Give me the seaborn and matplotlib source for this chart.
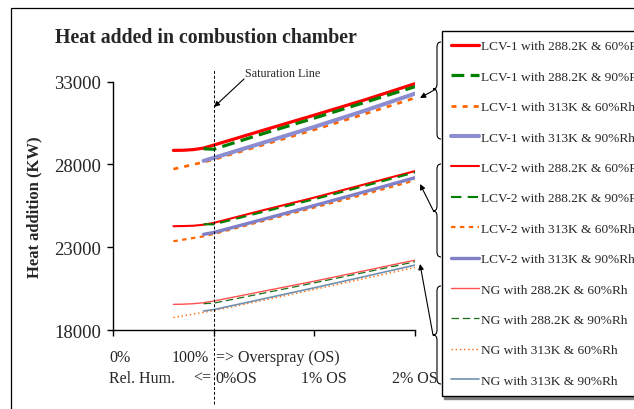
import numpy as np
import matplotlib
matplotlib.use("Agg")
import matplotlib.pyplot as plt
from matplotlib.path import Path
from matplotlib.patches import PathPatch, Rectangle
import seaborn as sns

# x positions: 0 = 0% RH, 1 = 100% RH / 0% OS, 2 = 1% OS, 3 = 2% OS
x_60 = [0.6, 0.7, 0.8, 0.9, 1.0, 1.5, 2.0, 2.5, 3.0]
x_90 = [0.9, 1.0, 1.5, 2.0, 2.5, 3.0]

lcv1_288_60 = [28850, 28860, 28900, 28990, 29170, 30080, 30980, 31900, 32880]
lcv1_288_90 = [28950, 28920, 29880, 30800, 31750, 32700]
lcv1_313_60 = [27720, 27860, 28000, 28140, 28300, 29200, 30100, 31050, 32020]
lcv1_313_90 = [28220, 28400, 29330, 30270, 31250, 32280]

lcv2_288_60 = [24270, 24280, 24300, 24360, 24470, 25250, 26000, 26800, 27600]
lcv2_288_90 = [24390, 24380, 25150, 25900, 26700, 27520]
lcv2_313_60 = [23360, 23460, 23560, 23660, 23800, 24600, 25400, 26200, 27040]
lcv2_313_90 = [23780, 23890, 24700, 25520, 26350, 27200]

ng_288_60 = [19550, 19560, 19590, 19650, 19750, 20350, 20950, 21580, 22220]
ng_288_90 = [19590, 19620, 20230, 20850, 21480, 22120]
ng_313_60 = [18750, 18860, 18960, 19070, 19170, 19800, 20450, 21110, 21780]
ng_313_90 = [19150, 19230, 19890, 20550, 21230, 21920]

y_ticks = [18000, 23000, 28000, 33000]

sns.set_style("white")
plt.rcParams['font.family'] = ['Liberation Serif', 'DejaVu Serif']

W, H = 634, 410
fig = plt.figure(figsize=(W / 100, H / 100), dpi=100)


def fx(px):
    return px / W


def fy(py):
    return 1 - py / H


ax = fig.add_axes([fx(113), fy(331), fx(415) - fx(113), fy(82.7) - fy(331)])
ax.set_facecolor('none')

series = [
    (x_60, lcv1_288_60, 'LCV-1 with 288.2K & 60%Rh', '#FF0000', 2.3, '-'),
    (x_90, lcv1_288_90, 'LCV-1 with 288.2K & 90%Rh', '#008000', 2.3, (0, (4, 2))),
    (x_60, lcv1_313_60, 'LCV-1 with 313K & 60%Rh', '#FF6600', 2.0, (0, (1.8, 2.2))),
    (x_90, lcv1_313_90, 'LCV-1 with 313K & 90%Rh', '#8C8CD0', 2.9, '-'),
    (x_60, lcv2_288_60, 'LCV-2 with 288.2K & 60%Rh', '#FF0000', 1.5, '-'),
    (x_90, lcv2_288_90, 'LCV-2 with 288.2K & 90%Rh', '#008000', 1.5, (0, (5, 3))),
    (x_60, lcv2_313_60, 'LCV-2 with 313K & 60%Rh', '#FF6600', 1.6, (0, (2, 2))),
    (x_90, lcv2_313_90, 'LCV-2 with 313K & 90%Rh', '#8080C8', 2.4, '-'),
    (x_60, ng_288_60, 'NG with 288.2K & 60%Rh', '#FF5050', 1.0, '-'),
    (x_90, ng_288_90, 'NG with 288.2K & 90%Rh', '#1A6E1A', 0.9, (0, (6, 3))),
    (x_60, ng_313_60, 'NG with 313K & 60%Rh', '#FF6600', 1.0, (0, (1, 2))),
    (x_90, ng_313_90, 'NG with 313K & 90%Rh', '#7090B0', 1.2, '-'),
]

for xs, ys, lab, col, lw, ls in series:
    sns.lineplot(x=xs, y=ys, ax=ax, color=col, lw=lw, linestyle=ls,
                 label=lab, legend=False)

ax.set_xlim(0, 3)
ax.set_ylim(18000, 33000)
ax.set_yticks(y_ticks)
ax.set_yticklabels([str(v) for v in y_ticks], fontsize=13.5)
ax.set_xticks([0, 1, 2, 3])
ax.set_xticklabels([])
ax.set_xlabel('')
ax.set_ylabel('')
sns.despine(ax=ax)
for s in ['left', 'bottom']:
    ax.spines[s].set_color('black')
    ax.spines[s].set_linewidth(1.0)
ax.tick_params(axis='both', direction='out', length=4.5, width=1, color='black',
               left=True, bottom=True, pad=4)

# saturation line
ax.axvline(1.0, ymin=-0.298, ymax=1.051, color='black', lw=0.7,
           linestyle=(0, (3, 2)), clip_on=False)
fig.text(fx(245), fy(74), 'Saturation Line', fontsize=8.7, va='center', ha='left')
ax.annotate('', xy=(fx(214), fy(108)), xycoords='figure fraction',
            xytext=(fx(244), fy(80)), textcoords='figure fraction',
            arrowprops=dict(arrowstyle='-|>', color='black', lw=0.8,
                            mutation_scale=8, shrinkA=0, shrinkB=0))

# title and axis labels
fig.text(fx(55), fy(43), 'Heat added in combustion chamber', fontsize=14.3,
         fontweight='bold', va='baseline', ha='left')
fig.text(fx(34), fy(207), 'Heat addition (KW)', fontsize=12, fontweight='bold',
         rotation=90, va='center', ha='center')

# two-row x annotations
row1 = [(109, '0%'), (172, '100%'), (216, '=> Overspray (OS)')]
row2 = [(109, 'Rel. Hum.'), (193, '<='), (215, '0%OS'), (301, '1% OS'), (392, '2% OS')]
for px, t in row1:
    fig.text(fx(px), fy(358), t, fontsize=11.5, va='center', ha='left')
for px, t in row2:
    fig.text(fx(px), fy(379), t, fontsize=11.5, va='center', ha='left')

# outer frame
fig.add_artist(Rectangle((fx(11), fy(420)), fx(640) - fx(11), fy(9) - fy(420),
                         transform=fig.transFigure, fill=False, edgecolor='black',
                         lw=0.9, clip_on=False))

# legend
handles, labels = ax.get_legend_handles_labels()
leg = fig.legend(handles, labels, loc='upper left',
                 bbox_to_anchor=(fx(441.7), fy(31.7)), bbox_transform=fig.transFigure,
                 fontsize=9.6, frameon=True, fancybox=False, borderpad=0.7,
                 labelspacing=1.355, handlelength=2.1, handletextpad=0.16,
                 borderaxespad=0, shadow={'color': '#808080', 'alpha': 1})
leg.get_frame().set_edgecolor('black')
leg.get_frame().set_linewidth(1.0)


def brace(y0, yc, y1, xr=441, xm=437, xl=433, r=5):
    pts = [(xr, y0), (xm, y0), (xm, y0 + r), (xm, y0 + r),
           (xm, yc - r), (xm, yc), (xl, yc), (xl, yc),
           (xm, yc), (xm, yc + r), (xm, yc + r),
           (xm, y1 - r), (xm, y1), (xr, y1)]
    codes = [Path.MOVETO, Path.CURVE3, Path.CURVE3, Path.LINETO,
             Path.LINETO, Path.CURVE3, Path.CURVE3, Path.LINETO,
             Path.CURVE3, Path.CURVE3, Path.LINETO,
             Path.LINETO, Path.CURVE3, Path.CURVE3]
    verts = [(fx(a), fy(b)) for a, b in pts]
    fig.add_artist(PathPatch(Path(verts, codes), transform=fig.transFigure,
                             fill=False, edgecolor='black', lw=0.8))


brace(43, 90, 140)
brace(165, 212, 258)
brace(287, 336, 385)

for (x0, y0), (x1, y1) in [((436, 90), (420, 99)),
                           ((433, 211), (420, 185)),
                           ((433, 336), (420, 265))]:
    ax.annotate('', xy=(fx(x1), fy(y1)), xycoords='figure fraction',
                xytext=(fx(x0), fy(y0)), textcoords='figure fraction',
                arrowprops=dict(arrowstyle='-|>', color='black', lw=0.8,
                                mutation_scale=8, shrinkA=0, shrinkB=0))

fig.savefig('out.png', dpi=100)
